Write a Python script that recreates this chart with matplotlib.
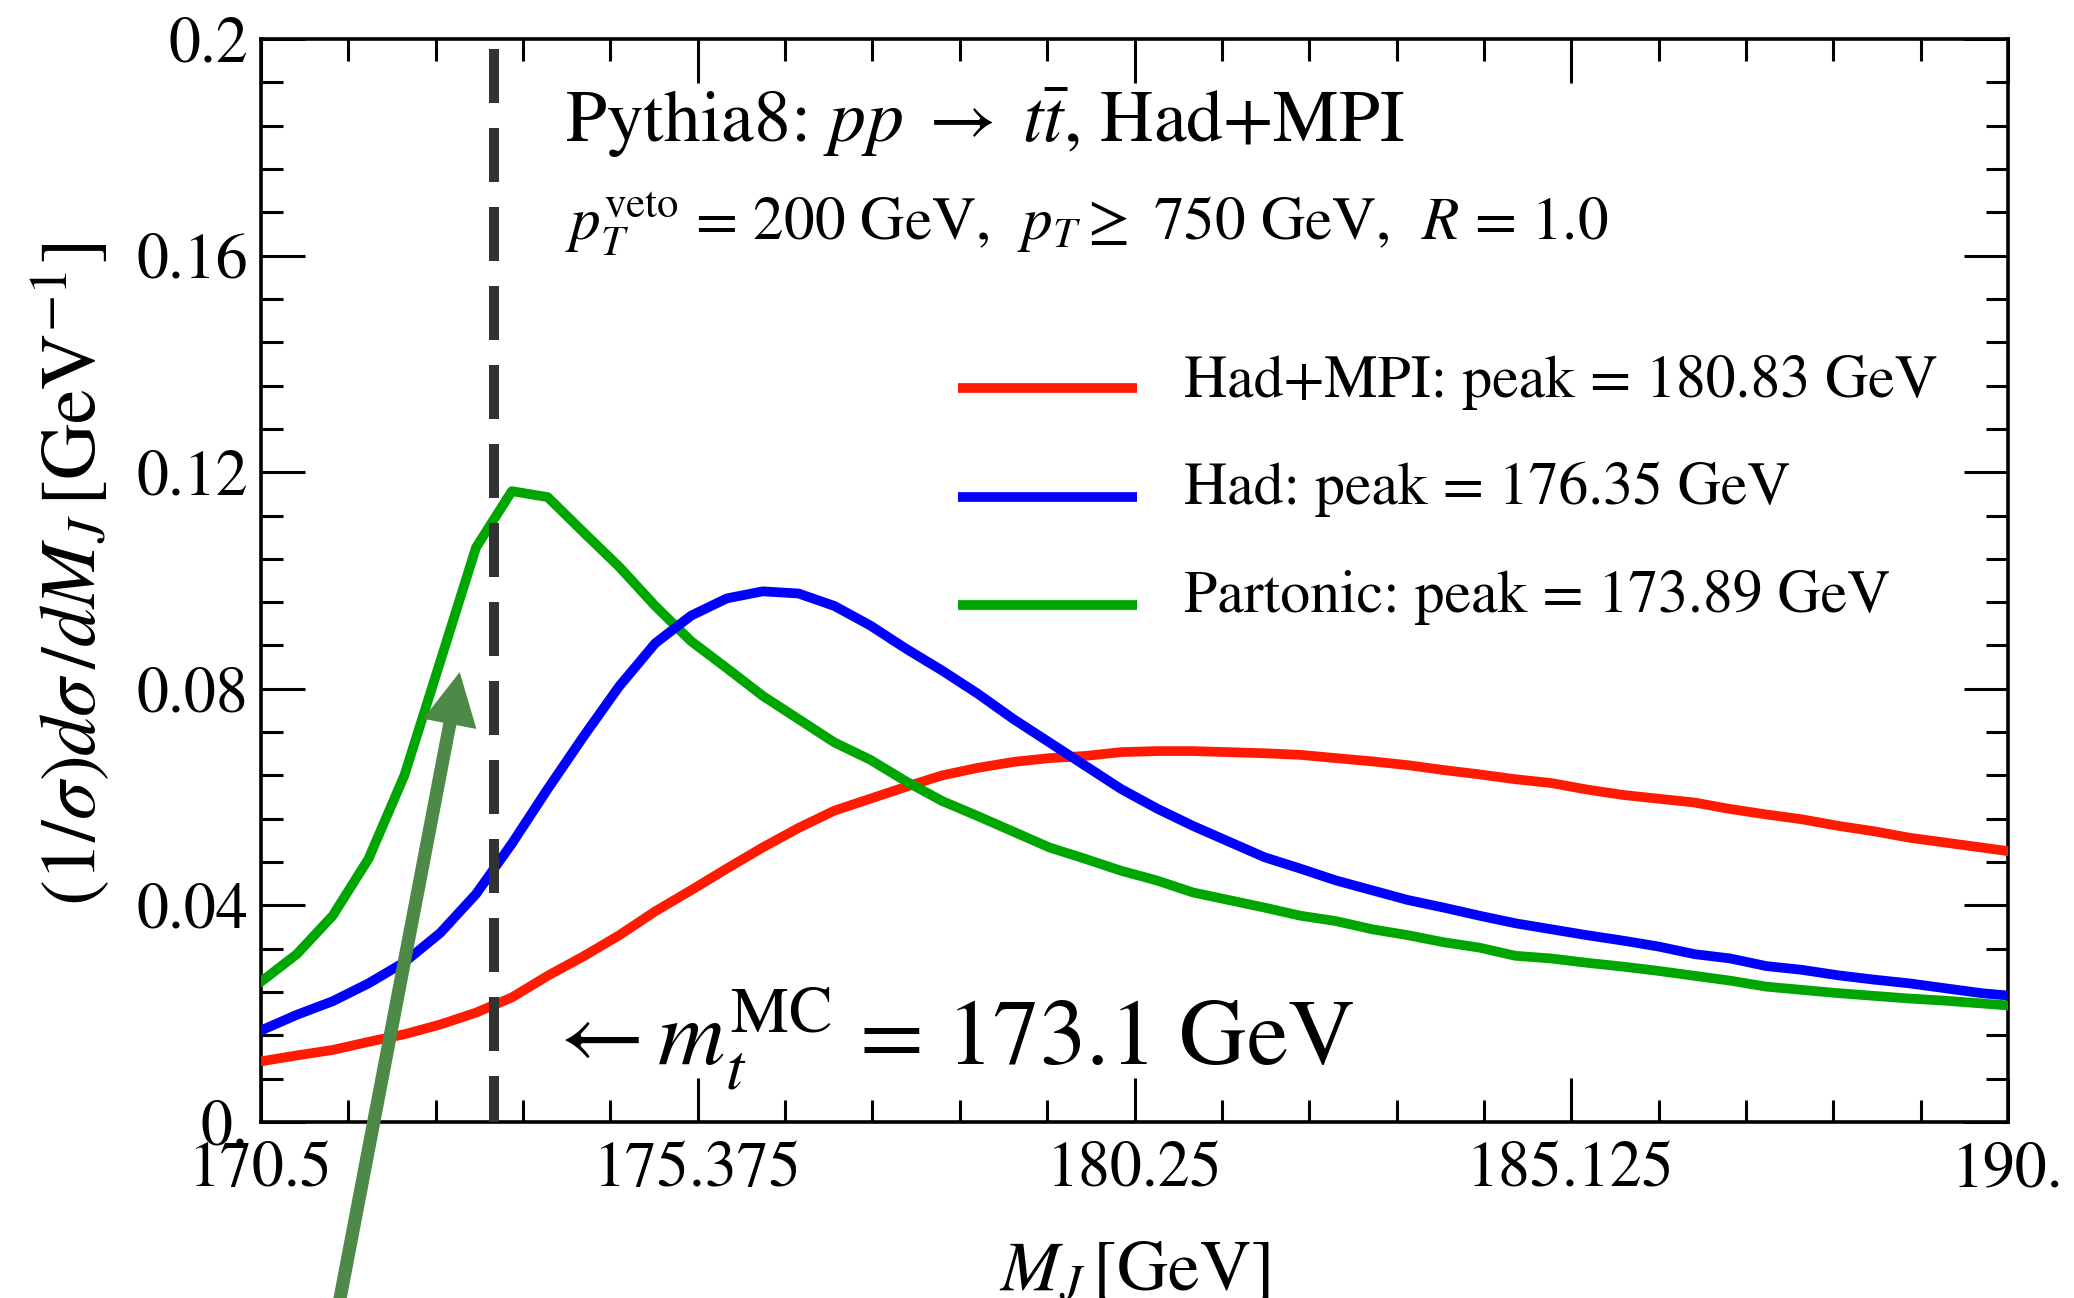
import numpy as np
import matplotlib
matplotlib.use('Agg')
import matplotlib.pyplot as plt

plt.rcParams['font.family'] = ['STIXGeneral', 'DejaVu Serif']
plt.rcParams['mathtext.fontset'] = 'stix'

# ---------------- data ----------------
mass = [170.5, 170.9, 171.3, 171.7, 172.1, 172.5, 172.9, 173.3, 173.7, 174.1,
        174.5, 174.9, 175.3, 175.7, 176.1, 176.5, 176.9, 177.3, 177.7, 178.1,
        178.5, 178.9, 179.3, 179.7, 180.1, 180.5, 180.9, 181.3, 181.7, 182.1,
        182.5, 182.9, 183.3, 183.7, 184.1, 184.5, 184.9, 185.3, 185.7, 186.1,
        186.5, 186.9, 187.3, 187.7, 188.1, 188.5, 188.9, 189.3, 189.7, 190.1]

had_mpi = [0.0112, 0.0123, 0.0133, 0.0148, 0.0162, 0.0180, 0.0202, 0.0230, 0.0270, 0.0306,
           0.0345, 0.0389, 0.0428, 0.0468, 0.0507, 0.0543, 0.0575, 0.0597, 0.0619, 0.0640,
           0.0654, 0.0665, 0.0672, 0.0676, 0.0683, 0.0685, 0.0685, 0.0683, 0.0681, 0.0678,
           0.0672, 0.0666, 0.0659, 0.0650, 0.0642, 0.0633, 0.0626, 0.0614, 0.0604, 0.0597,
           0.0590, 0.0578, 0.0568, 0.0559, 0.0547, 0.0537, 0.0525, 0.0516, 0.0507, 0.0498]

had = [0.0169, 0.0198, 0.0223, 0.0256, 0.0295, 0.0349, 0.0421, 0.0514, 0.0615, 0.0712,
       0.0805, 0.0884, 0.0935, 0.0967, 0.0980, 0.0976, 0.0953, 0.0917, 0.0874, 0.0834,
       0.0791, 0.0744, 0.0701, 0.0658, 0.0615, 0.0579, 0.0547, 0.0518, 0.0489, 0.0468,
       0.0446, 0.0428, 0.0410, 0.0396, 0.0381, 0.0367, 0.0356, 0.0345, 0.0335, 0.0324,
       0.0310, 0.0302, 0.0288, 0.0281, 0.0271, 0.0263, 0.0256, 0.0247, 0.0238, 0.0232]

partonic = [0.0259, 0.0310, 0.0381, 0.0486, 0.0640, 0.0850, 0.1061, 0.1165, 0.1154, 0.1089,
            0.1025, 0.0953, 0.0888, 0.0838, 0.0787, 0.0744, 0.0701, 0.0669, 0.0629, 0.0593,
            0.0565, 0.0536, 0.0507, 0.0486, 0.0464, 0.0446, 0.0424, 0.0410, 0.0396, 0.0381,
            0.0371, 0.0356, 0.0345, 0.0332, 0.0322, 0.0307, 0.0302, 0.0294, 0.0287, 0.0279,
            0.0270, 0.0261, 0.0250, 0.0244, 0.0238, 0.0233, 0.0228, 0.0224, 0.0219, 0.0214]

labels = ['Had+MPI: peak = 180.83 GeV',
          'Had: peak = 176.35 GeV',
          'Partonic: peak = 173.89 GeV']
colors = ['#ff1a00', '#0000ff', '#00a600']

m_t_mc = 173.1

xticks = [170.5, 175.375, 180.25, 185.125, 190.0]
xticklabels = ['170.5', '175.375', '180.25', '185.125', '190.']
yticks = [0.0, 0.04, 0.08, 0.12, 0.16, 0.2]
yticklabels = ['0.', '0.04', '0.08', '0.12', '0.16', '0.2']

# ---------------- figure ----------------
W, H = 2074, 1298
fig = plt.figure(figsize=(W / 100, H / 100), dpi=100)
ax = fig.add_axes([261 / W, 1 - 1122 / H, 1747 / W, 1083 / H])

lw = 7.0
ax.plot(mass, had_mpi, color=colors[0], lw=lw, zorder=3)
ax.plot(mass, partonic, color=colors[2], lw=lw, zorder=3)
ax.plot(mass, had, color=colors[1], lw=lw, zorder=3)

ax.plot([m_t_mc, m_t_mc], [0.2, 0.0], color='#333333', lw=7.2,
        linestyle=(6.9, (5.4, 2.5)), zorder=5)

# arrow
ax.annotate('', xy=(172.718, 0.0831), xytext=(171.166, -0.0513),
            xycoords='data', textcoords='data', annotation_clip=False,
            arrowprops=dict(width=9.5, headwidth=39, headlength=38,
                            facecolor='#4d8a47', edgecolor='none', shrink=0),
            zorder=6)

ax.set_xlim(170.5, 190.0)
ax.set_ylim(0, 0.2)

ax.set_xticks(xticks)
ax.set_xticklabels(xticklabels)
ax.set_xticks(np.linspace(170.5, 190.0, 21), minor=True)
ax.set_yticks(yticks)
ax.set_yticklabels(yticklabels)
ax.set_yticks(np.linspace(0, 0.2, 26), minor=True)

ax.tick_params(which='both', direction='in', top=True, right=True,
               width=2.2, color='black', labelsize=46)
ax.tick_params(which='major', length=31.7)
ax.tick_params(which='minor', length=15.8)
ax.tick_params(axis='x', pad=14)
ax.tick_params(axis='y', pad=9)
for s in ax.spines.values():
    s.set_linewidth(2.6)

ax.set_xlabel(r'$M_J\,$[GeV]', fontsize=51)
ax.xaxis.label.set_va('baseline')
ax.xaxis.set_label_coords(0.5, (1122 - 1290) / 1083)
ax.set_ylabel(r'$(1/\sigma) d\sigma\,/dM_J\,$[GeV$^{-1}$]', fontsize=56)
ax.yaxis.label.set_va('center')
ax.yaxis.set_label_coords((71 - 261) / 1747, (1122 - 574) / 1083)

# annotations
ax.text(0.174, 0.9049, r'Pythia8: $pp\;\rightarrow\;t\bar{t}$, Had+MPI',
        transform=ax.transAxes, fontsize=53, va='baseline', ha='left')
ax.text(0.174, 0.8144,
        r'$p_T^{\mathrm{veto}}$ = 200 GeV,  $p_T \geq$ 750 GeV,  $R$ = 1.0',
        transform=ax.transAxes, fontsize=44, va='baseline', ha='left')
ax.text(0.1626, 0.0526, r'$\leftarrow m_t^{\mathrm{MC}}$ = 173.1 GeV',
        transform=ax.transAxes, fontsize=67, va='baseline', ha='left')

# legend (manual)
line_y = [0.6777, 0.5771, 0.4774]
text_y = [0.6694, 0.5706, 0.4709]
for lab, c, ly, ty in zip(labels, colors, line_y, text_y):
    ax.plot([0.399, 0.5014], [ly, ly], transform=ax.transAxes, color=c,
            lw=lw, solid_capstyle='butt', clip_on=False)
    ax.text(0.5283, ty, lab, transform=ax.transAxes, fontsize=43,
            va='baseline', ha='left')

fig.savefig('out.png', dpi=100)
